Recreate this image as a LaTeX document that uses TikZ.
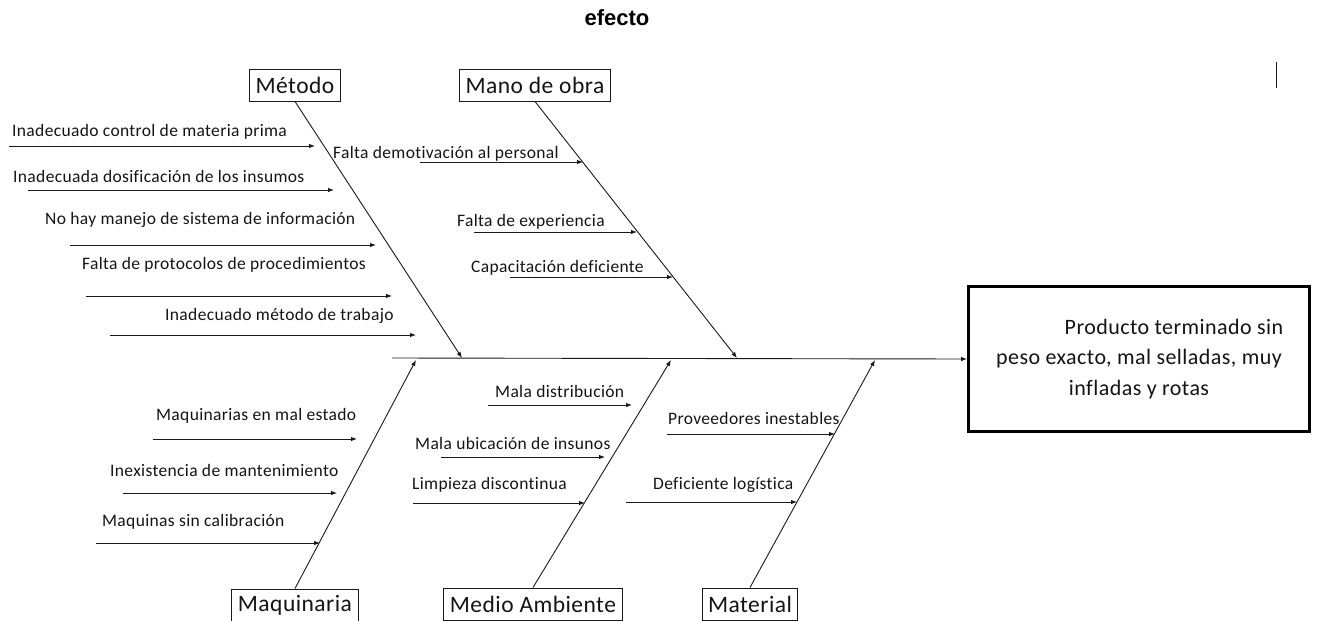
\documentclass[tikz,border=0pt]{standalone}
\usepackage{fontspec}
\setmainfont{Carlito}[LetterSpace=2,Ligatures=NoCommon]
\newfontfamily\titlefont{Liberation Sans}
\usetikzlibrary{arrows.meta,positioning,calc}
\definecolor{boneclr}{RGB}{25,25,25}
\definecolor{textclr}{RGB}{20,20,20}
\tikzset{
  % espina y huesos
  bone/.style      = {draw=boneclr, line width=0.9pt, -{Latex[length=6pt,width=4.5pt]}},
  causearr/.style  = {draw=boneclr, line width=0.9pt, -{Latex[length=6pt,width=4.5pt]}},
  % cajas de categoria
  catbox/.style    = {draw=boneclr, line width=1pt, fill=white, text=textclr,
                      font=\fontsize{23.5}{26}\selectfont, inner xsep=6pt,
                      minimum height=32pt},
  % etiquetas de causas
  causelab/.style  = {font=\fontsize{17.5}{20}\selectfont, text=textclr,
                      inner sep=0pt, anchor=west, yshift=-2pt},
  % caja del efecto
  effectbox/.style = {draw=black, line width=2.8pt, minimum width=341pt,
                      minimum height=145pt, align=center, text=textclr,
                      font=\fontsize{22}{30.5}\selectfont},
  titlelab/.style  = {font=\titlefont\bfseries\fontsize{22}{26}\selectfont},
}
\begin{document}
\begin{tikzpicture}[x=1pt,y=-1pt]
  \useasboundingbox (0,0) rectangle (1317,621);
  % titulo
  \node[titlelab] (title) at (617,18) {efecto};
  \coordinate (curA) at (1276,62);
  \coordinate (curB) at (1276,88);
  \draw[boneclr, line width=1pt] (curA) -- (curB);
  % efecto
  \node[effectbox] (effect) at (1139,359)
    {\hspace*{70pt}Producto terminado sin\\peso exacto, mal selladas, muy\\infladas y rotas};
  % espina principal
  \coordinate (spineS) at (392,358);
  \draw[bone] (spineS) -- (effect.west);
  % categorias
  \node[catbox] (met) at (295,85) {Método};
  \node[catbox] (mano) at (535,85) {Mano de obra};
  \node[catbox] (maq) at (295,605) {Maquinaria};
  \node[catbox] (medio) at (533,604) {Medio Ambiente};
  \node[catbox] (mat) at (750,604) {Material};
  \coordinate (metE) at (462,358);
  \coordinate (manoE) at (737,358);
  \coordinate (maqE) at (416,360);
  \coordinate (medioE) at (671,360);
  \coordinate (matE) at (875,360);
  \draw[bone] (met.south) -- (metE);
  \draw[bone] (mano.south) -- (manoE);
  \draw[bone] (maq.north) -- (maqE);
  \draw[bone] (medio.north) -- (medioE);
  \draw[bone] (mat.north) -- (matE);
  % causas: texto / x texto / y texto / x inicio / x fin / y flecha
  \foreach \t/\tx/\ty/\xa/\xb/\yy [count=\i] in {
      Inadecuado control de materia prima/12/130/9/315/146,
      Inadecuada dosificación de los insumos/13/174/28/334/190,
      No hay manejo de sistema de información/45/218/70/376/245,
      Falta de protocolos de procedimientos/82/263/86/392/296,
      Inadecuado método de trabajo/165/314/110/416/335,
      Falta demotivación al personal/333/152/420/583/162,
      Falta de experiencia/457/220/474/637/232,
      Capacitación deficiente/471/266/510/673/277,
      Maquinarias en mal estado/156/414/153/357/439,
      Inexistencia de mantenimiento/110/468/123/337/493,
      Maquinas sin calibración/102/520/96/320/543,
      Mala distribución/495/389/488/632/405,
      Mala ubicación de insunos/415/441/441/605/457,
      Limpieza discontinua/412/483/413/585/503,
      Proveedores inestables/668/416/667/835/434,
      Deficiente logística/653/483/626/797/502}{
    \node[causelab] (cl\i) at (\tx,\ty) {\t};
    \coordinate (ca\i) at (\xa,\yy);
    \coordinate (cb\i) at (\xb,\yy);
    \draw[causearr] (ca\i) -- (cb\i);
  }
\end{tikzpicture}
\end{document}
